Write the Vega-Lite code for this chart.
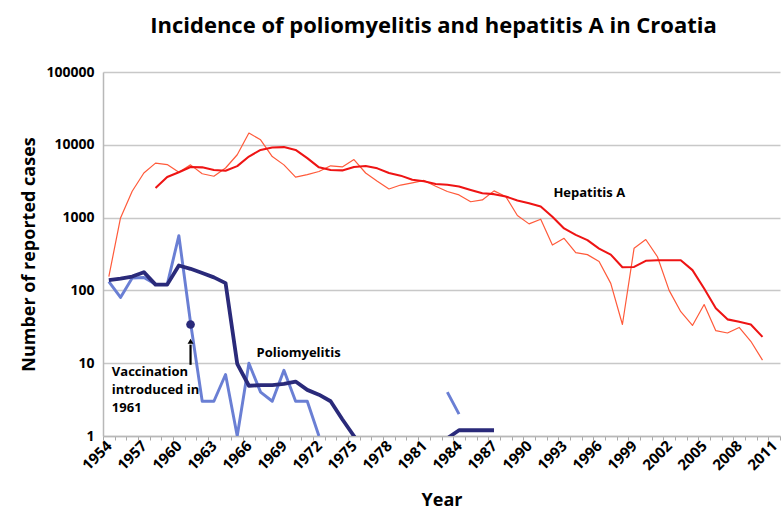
{
  "$schema": "https://vega.github.io/schema/vega-lite/v6.json",
  "width": 677,
  "height": 364,
  "autosize": {"type": "none"},
  "padding": {"left": 103, "top": 72, "right": 4, "bottom": 77},
  "background": "white",
  "title": {
    "text": "Incidence of poliomyelitis and hepatitis A in Croatia",
    "font": "Open Sans",
    "fontSize": 22,
    "fontWeight": "bold",
    "color": "#000000",
    "anchor": "middle",
    "dx": -8,
    "offset": 27
  },
  "config": {
    "view": {"stroke": null},
    "font": "Open Sans"
  },
  "datasets": {
    "cases": [
      {"year": 1954, "series": "Hepatitis A", "value": 155},
      {"year": 1955, "series": "Hepatitis A", "value": 990},
      {"year": 1956, "series": "Hepatitis A", "value": 2300},
      {"year": 1957, "series": "Hepatitis A", "value": 4100},
      {"year": 1958, "series": "Hepatitis A", "value": 5600},
      {"year": 1959, "series": "Hepatitis A", "value": 5350},
      {"year": 1960, "series": "Hepatitis A", "value": 4200},
      {"year": 1961, "series": "Hepatitis A", "value": 5300},
      {"year": 1962, "series": "Hepatitis A", "value": 4000},
      {"year": 1963, "series": "Hepatitis A", "value": 3700},
      {"year": 1964, "series": "Hepatitis A", "value": 4800},
      {"year": 1965, "series": "Hepatitis A", "value": 7300},
      {"year": 1966, "series": "Hepatitis A", "value": 14500},
      {"year": 1967, "series": "Hepatitis A", "value": 11700},
      {"year": 1968, "series": "Hepatitis A", "value": 6900},
      {"year": 1969, "series": "Hepatitis A", "value": 5300},
      {"year": 1970, "series": "Hepatitis A", "value": 3600},
      {"year": 1971, "series": "Hepatitis A", "value": 3900},
      {"year": 1972, "series": "Hepatitis A", "value": 4300},
      {"year": 1973, "series": "Hepatitis A", "value": 5150},
      {"year": 1974, "series": "Hepatitis A", "value": 4960},
      {"year": 1975, "series": "Hepatitis A", "value": 6260},
      {"year": 1976, "series": "Hepatitis A", "value": 4100},
      {"year": 1977, "series": "Hepatitis A", "value": 3150},
      {"year": 1978, "series": "Hepatitis A", "value": 2470},
      {"year": 1979, "series": "Hepatitis A", "value": 2800},
      {"year": 1980, "series": "Hepatitis A", "value": 3000},
      {"year": 1981, "series": "Hepatitis A", "value": 3240},
      {"year": 1982, "series": "Hepatitis A", "value": 2700},
      {"year": 1983, "series": "Hepatitis A", "value": 2280},
      {"year": 1984, "series": "Hepatitis A", "value": 2050},
      {"year": 1985, "series": "Hepatitis A", "value": 1650},
      {"year": 1986, "series": "Hepatitis A", "value": 1750},
      {"year": 1987, "series": "Hepatitis A", "value": 2330},
      {"year": 1988, "series": "Hepatitis A", "value": 1950},
      {"year": 1989, "series": "Hepatitis A", "value": 1070},
      {"year": 1990, "series": "Hepatitis A", "value": 820},
      {"year": 1991, "series": "Hepatitis A", "value": 950},
      {"year": 1992, "series": "Hepatitis A", "value": 420},
      {"year": 1993, "series": "Hepatitis A", "value": 520},
      {"year": 1994, "series": "Hepatitis A", "value": 330},
      {"year": 1995, "series": "Hepatitis A", "value": 310},
      {"year": 1996, "series": "Hepatitis A", "value": 250},
      {"year": 1997, "series": "Hepatitis A", "value": 125},
      {"year": 1998, "series": "Hepatitis A", "value": 34},
      {"year": 1999, "series": "Hepatitis A", "value": 380},
      {"year": 2000, "series": "Hepatitis A", "value": 500},
      {"year": 2001, "series": "Hepatitis A", "value": 290},
      {"year": 2002, "series": "Hepatitis A", "value": 100},
      {"year": 2003, "series": "Hepatitis A", "value": 51},
      {"year": 2004, "series": "Hepatitis A", "value": 33},
      {"year": 2005, "series": "Hepatitis A", "value": 64},
      {"year": 2006, "series": "Hepatitis A", "value": 28},
      {"year": 2007, "series": "Hepatitis A", "value": 26},
      {"year": 2008, "series": "Hepatitis A", "value": 31},
      {"year": 2009, "series": "Hepatitis A", "value": 20},
      {"year": 2010, "series": "Hepatitis A", "value": 11},

      {"year": 1958, "series": "Hepatitis A trend", "value": 2550},
      {"year": 1959, "series": "Hepatitis A trend", "value": 3620},
      {"year": 1960, "series": "Hepatitis A trend", "value": 4200},
      {"year": 1961, "series": "Hepatitis A trend", "value": 4960},
      {"year": 1962, "series": "Hepatitis A trend", "value": 4900},
      {"year": 1963, "series": "Hepatitis A trend", "value": 4500},
      {"year": 1964, "series": "Hepatitis A trend", "value": 4400},
      {"year": 1965, "series": "Hepatitis A trend", "value": 5100},
      {"year": 1966, "series": "Hepatitis A trend", "value": 6900},
      {"year": 1967, "series": "Hepatitis A trend", "value": 8500},
      {"year": 1968, "series": "Hepatitis A trend", "value": 9200},
      {"year": 1969, "series": "Hepatitis A trend", "value": 9300},
      {"year": 1970, "series": "Hepatitis A trend", "value": 8500},
      {"year": 1971, "series": "Hepatitis A trend", "value": 6550},
      {"year": 1972, "series": "Hepatitis A trend", "value": 4900},
      {"year": 1973, "series": "Hepatitis A trend", "value": 4500},
      {"year": 1974, "series": "Hepatitis A trend", "value": 4450},
      {"year": 1975, "series": "Hepatitis A trend", "value": 4960},
      {"year": 1976, "series": "Hepatitis A trend", "value": 5100},
      {"year": 1977, "series": "Hepatitis A trend", "value": 4750},
      {"year": 1978, "series": "Hepatitis A trend", "value": 4100},
      {"year": 1979, "series": "Hepatitis A trend", "value": 3770},
      {"year": 1980, "series": "Hepatitis A trend", "value": 3320},
      {"year": 1981, "series": "Hepatitis A trend", "value": 3150},
      {"year": 1982, "series": "Hepatitis A trend", "value": 2900},
      {"year": 1983, "series": "Hepatitis A trend", "value": 2820},
      {"year": 1984, "series": "Hepatitis A trend", "value": 2680},
      {"year": 1985, "series": "Hepatitis A trend", "value": 2400},
      {"year": 1986, "series": "Hepatitis A trend", "value": 2160},
      {"year": 1987, "series": "Hepatitis A trend", "value": 2100},
      {"year": 1988, "series": "Hepatitis A trend", "value": 1950},
      {"year": 1989, "series": "Hepatitis A trend", "value": 1720},
      {"year": 1990, "series": "Hepatitis A trend", "value": 1580},
      {"year": 1991, "series": "Hepatitis A trend", "value": 1420},
      {"year": 1992, "series": "Hepatitis A trend", "value": 1030},
      {"year": 1993, "series": "Hepatitis A trend", "value": 710},
      {"year": 1994, "series": "Hepatitis A trend", "value": 580},
      {"year": 1995, "series": "Hepatitis A trend", "value": 490},
      {"year": 1996, "series": "Hepatitis A trend", "value": 375},
      {"year": 1997, "series": "Hepatitis A trend", "value": 310},
      {"year": 1998, "series": "Hepatitis A trend", "value": 208},
      {"year": 1999, "series": "Hepatitis A trend", "value": 210},
      {"year": 2000, "series": "Hepatitis A trend", "value": 255},
      {"year": 2001, "series": "Hepatitis A trend", "value": 260},
      {"year": 2002, "series": "Hepatitis A trend", "value": 260},
      {"year": 2003, "series": "Hepatitis A trend", "value": 260},
      {"year": 2004, "series": "Hepatitis A trend", "value": 190},
      {"year": 2005, "series": "Hepatitis A trend", "value": 106},
      {"year": 2006, "series": "Hepatitis A trend", "value": 57},
      {"year": 2007, "series": "Hepatitis A trend", "value": 40},
      {"year": 2008, "series": "Hepatitis A trend", "value": 37},
      {"year": 2009, "series": "Hepatitis A trend", "value": 34},
      {"year": 2010, "series": "Hepatitis A trend", "value": 23},

      {"year": 1954, "series": "Poliomyelitis", "value": 132},
      {"year": 1955, "series": "Poliomyelitis", "value": 80},
      {"year": 1956, "series": "Poliomyelitis", "value": 148},
      {"year": 1957, "series": "Poliomyelitis", "value": 150},
      {"year": 1958, "series": "Poliomyelitis", "value": 122},
      {"year": 1959, "series": "Poliomyelitis", "value": 120},
      {"year": 1960, "series": "Poliomyelitis", "value": 565},
      {"year": 1961, "series": "Poliomyelitis", "value": 36},
      {"year": 1962, "series": "Poliomyelitis", "value": 3},
      {"year": 1963, "series": "Poliomyelitis", "value": 3},
      {"year": 1964, "series": "Poliomyelitis", "value": 7},
      {"year": 1965, "series": "Poliomyelitis", "value": 1},
      {"year": 1966, "series": "Poliomyelitis", "value": 10},
      {"year": 1967, "series": "Poliomyelitis", "value": 4},
      {"year": 1968, "series": "Poliomyelitis", "value": 3},
      {"year": 1969, "series": "Poliomyelitis", "value": 8},
      {"year": 1970, "series": "Poliomyelitis", "value": 3},
      {"year": 1971, "series": "Poliomyelitis", "value": 3},
      {"year": 1972, "series": "Poliomyelitis", "value": 1},
      {"year": 1978, "series": "Poliomyelitis", "value": null},
      {"year": 1983, "series": "Poliomyelitis", "value": 4},
      {"year": 1984, "series": "Poliomyelitis", "value": 2},

      {"year": 1954, "series": "Poliomyelitis trend", "value": 138},
      {"year": 1955, "series": "Poliomyelitis trend", "value": 145},
      {"year": 1956, "series": "Poliomyelitis trend", "value": 155},
      {"year": 1957, "series": "Poliomyelitis trend", "value": 178},
      {"year": 1958, "series": "Poliomyelitis trend", "value": 120},
      {"year": 1959, "series": "Poliomyelitis trend", "value": 120},
      {"year": 1960, "series": "Poliomyelitis trend", "value": 220},
      {"year": 1961, "series": "Poliomyelitis trend", "value": 198},
      {"year": 1962, "series": "Poliomyelitis trend", "value": 173},
      {"year": 1963, "series": "Poliomyelitis trend", "value": 151},
      {"year": 1964, "series": "Poliomyelitis trend", "value": 126},
      {"year": 1965, "series": "Poliomyelitis trend", "value": 9.8},
      {"year": 1966, "series": "Poliomyelitis trend", "value": 4.9},
      {"year": 1967, "series": "Poliomyelitis trend", "value": 5},
      {"year": 1968, "series": "Poliomyelitis trend", "value": 5},
      {"year": 1969, "series": "Poliomyelitis trend", "value": 5.2},
      {"year": 1970, "series": "Poliomyelitis trend", "value": 5.6},
      {"year": 1971, "series": "Poliomyelitis trend", "value": 4.3},
      {"year": 1972, "series": "Poliomyelitis trend", "value": 3.7},
      {"year": 1973, "series": "Poliomyelitis trend", "value": 3.0},
      {"year": 1974, "series": "Poliomyelitis trend", "value": 1.7},
      {"year": 1975, "series": "Poliomyelitis trend", "value": 1.0},
      {"year": 1976, "series": "Poliomyelitis trend", "value": 0.5},
      {"year": 1980, "series": "Poliomyelitis trend", "value": null},
      {"year": 1983, "series": "Poliomyelitis trend", "value": 0.93},
      {"year": 1984, "series": "Poliomyelitis trend", "value": 1.2},
      {"year": 1985, "series": "Poliomyelitis trend", "value": 1.2},
      {"year": 1986, "series": "Poliomyelitis trend", "value": 1.2},
      {"year": 1987, "series": "Poliomyelitis trend", "value": 1.2}
    ],
    "arrow": [
      {"year": 1961, "value": 9.5, "value2": 18}
    ],
    "arrowhead": [
      {"year": 1961, "value": 20}
    ],
    "vaccination": [
      {"year": 1961, "value": 34}
    ],
    "hepLabel": [
      {"year": 1992, "value": 2190, "label": "Hepatitis A"}
    ],
    "polioLabel": [
      {"year": 1967, "value": 14, "label": "Poliomyelitis"}
    ],
    "note": [
      {"year": 1954, "value": 7.6, "label": "Vaccination\nintroduced in\n1961"}
    ]
  },
  "layer": [
    {
      "data": {"name": "cases"},
      "mark": {"type": "line", "clip": true, "invalid": "break-paths-filter-domains", "strokeJoin": "round"},
      "encoding": {
        "x": {
          "field": "year",
          "type": "ordinal",
          "scale": {
            "type": "band",
            "paddingInner": 0,
            "paddingOuter": 0,
            "domain": [1954,1955,1956,1957,1958,1959,1960,1961,1962,1963,1964,1965,1966,1967,1968,1969,1970,1971,1972,1973,1974,1975,1976,1977,1978,1979,1980,1981,1982,1983,1984,1985,1986,1987,1988,1989,1990,1991,1992,1993,1994,1995,1996,1997,1998,1999,2000,2001,2002,2003,2004,2005,2006,2007,2008,2009,2010,2011]
          },
          "axis": {
            "title": "Year",
            "titleFont": "Open Sans",
            "titleFontSize": 18,
            "titleFontWeight": "bold",
            "titleColor": "#000000",
            "titlePadding": 19,
            "labelExpr": "(datum.value - 1954) % 3 == 0 ? datum.label : ''",
            "labelAngle": -45,
            "labelAlign": "right",
            "labelBaseline": "middle",
            "labelFont": "Open Sans",
            "labelFontSize": 15,
            "labelFontWeight": "bold",
            "labelColor": "#000000",
            "labelPadding": 3,
            "labelOverlap": false,
            "tickBand": "extent",
            "tickSize": 4,
            "tickColor": "#a8a8a8",
            "tickWidth": 1,
            "domainColor": "#b8b8b8",
            "domainWidth": 1.5,
            "grid": false
          }
        },
        "y": {
          "field": "value",
          "type": "quantitative",
          "scale": {"type": "log", "domain": [1, 100000], "nice": false},
          "axis": {
            "title": "Number of reported cases",
            "titleFont": "Open Sans",
            "titleFontSize": 18,
            "titleFontWeight": "bold",
            "titleColor": "#000000",
            "titlePadding": 7,
            "values": [1, 10, 100, 1000, 10000, 100000],
            "format": "d",
            "labelFont": "Open Sans",
            "labelFontSize": 14,
            "labelFontWeight": "bold",
            "labelColor": "#000000",
            "labelPadding": 9,
            "ticks": false,
            "domainColor": "#b8b8b8",
            "domainWidth": 1.5,
            "grid": true,
            "gridColor": "#c8c8c8",
            "gridWidth": 1.5
          }
        },
        "color": {
          "field": "series",
          "type": "nominal",
          "scale": {
            "domain": ["Hepatitis A", "Hepatitis A trend", "Poliomyelitis", "Poliomyelitis trend"],
            "range": ["#ff5a3a", "#ee1414", "#6a7fd4", "#2a2a7a"]
          },
          "legend": null
        },
        "strokeWidth": {
          "field": "series",
          "type": "nominal",
          "scale": {
            "domain": ["Hepatitis A", "Hepatitis A trend", "Poliomyelitis", "Poliomyelitis trend"],
            "range": [1.2, 3.8, 1.0, 3.8]
          },
          "legend": null
        }
      }
    },
    {
      "data": {"name": "arrow"},
      "mark": {"type": "rule", "color": "#000000", "strokeWidth": 2.2},
      "encoding": {
        "x": {"field": "year", "type": "ordinal"},
        "y": {"field": "value", "type": "quantitative"},
        "y2": {"field": "value2"}
      }
    },
    {
      "data": {"name": "arrowhead"},
      "mark": {"type": "point", "shape": "triangle-up", "filled": true, "color": "#000000", "size": 35, "opacity": 1},
      "encoding": {
        "x": {"field": "year", "type": "ordinal"},
        "y": {"field": "value", "type": "quantitative"}
      }
    },
    {
      "data": {"name": "vaccination"},
      "mark": {"type": "point", "shape": "circle", "filled": true, "color": "#2a2a7a", "size": 75, "opacity": 1},
      "encoding": {
        "x": {"field": "year", "type": "ordinal"},
        "y": {"field": "value", "type": "quantitative"}
      }
    },
    {
      "data": {"name": "hepLabel"},
      "mark": {"type": "text", "font": "Open Sans", "fontSize": 13, "fontWeight": "bold", "align": "left", "baseline": "middle", "dx": 1, "color": "#000000"},
      "encoding": {
        "x": {"field": "year", "type": "ordinal"},
        "y": {"field": "value", "type": "quantitative"},
        "text": {"field": "label"}
      }
    },
    {
      "data": {"name": "polioLabel"},
      "mark": {"type": "text", "font": "Open Sans", "fontSize": 13, "fontWeight": "bold", "align": "left", "baseline": "middle", "dx": -4, "color": "#000000"},
      "encoding": {
        "x": {"field": "year", "type": "ordinal"},
        "y": {"field": "value", "type": "quantitative"},
        "text": {"field": "label"}
      }
    },
    {
      "data": {"name": "note"},
      "mark": {"type": "text", "lineBreak": "\n", "lineHeight": 18, "font": "Open Sans", "fontSize": 13, "fontWeight": "bold", "align": "left", "baseline": "middle", "dx": 3, "color": "#000000"},
      "encoding": {
        "x": {"field": "year", "type": "ordinal"},
        "y": {"field": "value", "type": "quantitative"},
        "text": {"field": "label"}
      }
    }
  ]
}
